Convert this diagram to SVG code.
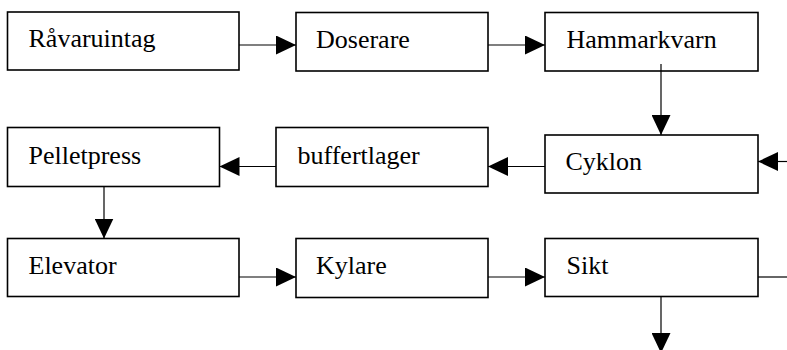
<svg xmlns="http://www.w3.org/2000/svg" width="787" height="350" viewBox="0 0 787 350">
<style>
.box{fill:#fff;stroke:#000;stroke-width:1.6}
.lbl{font-family:"Liberation Serif","Times New Roman",serif;font-size:26px;fill:#000}
.con{fill:none;stroke:#000;stroke-width:1.2}
</style>
<defs>
<marker id="ah" markerUnits="userSpaceOnUse" markerWidth="20" markerHeight="19" refX="20" refY="9.5" orient="auto">
<path d="M0,0 L20,9.5 L0,19 z" fill="#000"/>
</marker>
</defs>
<rect width="787" height="350" fill="#fff"/>
<g id="ravaruintag"><rect class="box" x="7.5" y="12" width="231.5" height="58"/><text class="lbl" x="28.5" y="46.5">Råvaruintag</text></g>
<g id="doserare"><rect class="box" x="296" y="12.5" width="192" height="58.5"/><text class="lbl" x="316" y="48">Doserare</text></g>
<g id="hammarkvarn"><rect class="box" x="545" y="12.5" width="213" height="58.5"/><text class="lbl" x="566.5" y="48">Hammarkvarn</text></g>
<g id="pelletpress"><rect class="box" x="7.5" y="127.5" width="212" height="59"/><text class="lbl" x="28.5" y="163.5">Pelletpress</text></g>
<g id="buffertlager"><rect class="box" x="276" y="127.5" width="212" height="59"/><text class="lbl" x="297.5" y="163.5">buffertlager</text></g>
<g id="cyklon"><rect class="box" x="545" y="135" width="213" height="58"/><text class="lbl" x="565.5" y="170">Cyklon</text></g>
<g id="elevator"><rect class="box" x="7.5" y="238.5" width="231.5" height="58"/><text class="lbl" x="28.5" y="274">Elevator</text></g>
<g id="kylare"><rect class="box" x="296" y="238.5" width="192" height="59"/><text class="lbl" x="316" y="274">Kylare</text></g>
<g id="sikt"><rect class="box" x="545" y="238.5" width="213" height="58"/><text class="lbl" x="566.5" y="274">Sikt</text></g>
<g id="connectors">
<path class="con" d="M239,45 H296" marker-end="url(#ah)"/>
<path class="con" d="M488,45 H545" marker-end="url(#ah)"/>
<path class="con" d="M661,64 V135" marker-end="url(#ah)"/>
<path class="con" d="M545,166.5 H488" marker-end="url(#ah)"/>
<path class="con" d="M276,166.5 H219.5" marker-end="url(#ah)"/>
<path class="con" d="M787,161.5 H758" marker-end="url(#ah)"/>
<path class="con" d="M104,187 V238.5" marker-end="url(#ah)"/>
<path class="con" d="M239,277 H296" marker-end="url(#ah)"/>
<path class="con" d="M488,277 H545" marker-end="url(#ah)"/>
<path class="con" d="M758,277 H787"/>
<path class="con" d="M661,297 V353" marker-end="url(#ah)"/>
</g>
</svg>
